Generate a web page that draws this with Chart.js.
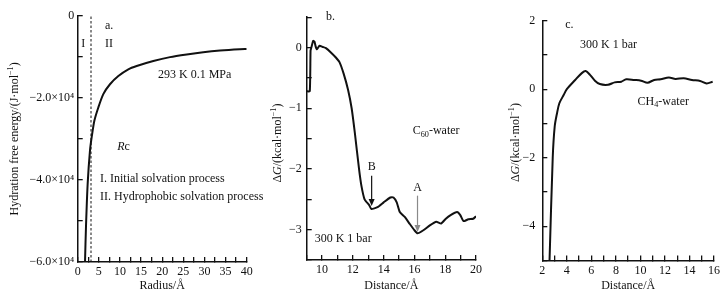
<!DOCTYPE html>
<html>
  <head>
    <meta charset="UTF-8" />
    <title>Hydration free energy</title>
    <style>
      body { margin: 0; background: #fff; }
      #wrap { position: relative; width: 728px; height: 299px; }
      canvas { position: absolute; top: 0; }
    </style>
  </head>
  <body>
    <div id="wrap">
      <canvas id="chartA" width="268" height="299" style="left:0"></canvas>
      <canvas id="chartB" width="235" height="299" style="left:255px"></canvas>
      <canvas id="chartC" width="238" height="299" style="left:490px"></canvas>
    </div>
    <script src="https://cdn.jsdelivr.net/npm/chart.js@4.4.1/dist/chart.umd.min.js"></script>
    <script>
      // panel a: hydration free energy vs radius
      const radiusA = [1.73, 1.96, 2.36, 2.91, 3.31, 3.94, 4.88, 6.06, 7.64, 9.62, 11.98, 13.96, 17.9, 21.85, 25.8, 29.7, 33.7, 38.4, 40];
      const energyA = [-60000, -51400, -40900, -32800, -29600, -25600, -22350, -19100, -16700, -14700, -13060, -12260, -11050, -10090, -9430, -8880, -8470, -8150, -8100];
      const rcLine = [3.15, 3.15];
      const rcLineY = [-200, -60000];

      // panel b: C60-water
      const distB = [9.0, 9.2, 9.25, 9.3, 9.42, 9.5, 9.58, 9.66, 9.83, 10.04, 10.25, 10.57, 10.88, 11.13, 11.4, 11.69, 11.92, 12.13, 12.4, 12.55, 12.76, 13.07, 13.2, 13.6, 14.0, 14.43, 14.64, 14.85, 15.05, 15.37, 15.68, 16.0, 16.2, 16.58, 17.0, 17.42, 17.73, 18.04, 18.35, 18.77, 18.98, 19.19, 19.5, 19.82, 20.0];
      const dGB = [-0.72, -0.72, -0.05, 0.0, 0.11, 0.10, 0.02, -0.03, 0.03, 0.01, -0.01, -0.08, -0.16, -0.24, -0.43, -0.70, -1.0, -1.41, -2.0, -2.27, -2.5, -2.6, -2.66, -2.63, -2.55, -2.47, -2.47, -2.55, -2.71, -2.79, -2.9, -3.01, -3.06, -3.01, -2.93, -2.87, -2.9, -2.82, -2.76, -2.71, -2.76, -2.86, -2.83, -2.82, -2.78];

      // panel c: CH4-water
      const distC = [2.59, 2.85, 3.01, 3.2, 3.39, 3.74, 4.0, 4.68, 5.22, 5.54, 5.89, 6.29, 6.69, 7.36, 7.9, 8.44, 8.84, 9.5, 10.05, 10.58, 11.12, 11.65, 12.32, 12.86, 13.53, 14.2, 14.87, 15.4, 15.89];
      const dGC = [-5, -2.0, -1.09, -0.7, -0.41, -0.17, 0.0, 0.27, 0.47, 0.53, 0.42, 0.25, 0.15, 0.13, 0.2, 0.22, 0.29, 0.27, 0.25, 0.19, 0.27, 0.29, 0.34, 0.3, 0.32, 0.27, 0.24, 0.17, 0.22];

      const serif = '"Liberation Serif", "Times New Roman", serif';
      const ink = "#111";
      const MINUS = "\u2212";

      function pts(xs, ys) {
        return xs.map((x, i) => ({ x: x, y: ys[i] }));
      }

      // draws a run of text pieces (italic / sub / sup) one after another
      function drawRich(ctx, segs, x, y, size, align) {
        const fontOf = (s) =>
          (s.it ? "italic " : "") + (s.sub || s.sup ? size * 0.68 : size) + "px " + serif;
        let w = 0;
        segs.forEach((s) => {
          ctx.font = fontOf(s);
          w += ctx.measureText(s.t).width;
        });
        let cx = align === "center" ? x - w / 2 : x;
        segs.forEach((s) => {
          ctx.font = fontOf(s);
          let dy = s.sub ? size * 0.3 : s.sup ? -size * 0.35 : 0;
          ctx.fillText(s.t, cx, y + dy);
          cx += ctx.measureText(s.t).width;
        });
      }

      // notes are placed at data coords, y titles relative to the chart area
      function notesPlugin(notes, arrows, yTitle) {
        return {
          id: "notes",
          afterDraw(chart) {
            const ctx = chart.ctx;
            const sx = chart.scales.x, sy = chart.scales.y;
            ctx.save();
            ctx.fillStyle = ink;
            ctx.textBaseline = "middle";
            notes.forEach((n) => {
              drawRich(ctx, n.segs, sx.getPixelForValue(n.x), sy.getPixelForValue(n.y), 12, n.align || "left");
            });
            arrows.forEach((a) => {
              const px = sx.getPixelForValue(a.x);
              const y1 = sy.getPixelForValue(a.y1), y2 = sy.getPixelForValue(a.y2);
              ctx.strokeStyle = a.color;
              ctx.fillStyle = a.color;
              ctx.lineWidth = 1.2;
              ctx.beginPath();
              ctx.moveTo(px, y1);
              ctx.lineTo(px, y2 - 5);
              ctx.stroke();
              ctx.beginPath();
              ctx.moveTo(px, y2);
              ctx.lineTo(px - 3, y2 - 7);
              ctx.lineTo(px + 3, y2 - 7);
              ctx.closePath();
              ctx.fill();
            });
            ctx.fillStyle = ink;
            const ca = chart.chartArea;
            ctx.translate(ca.left - yTitle.dx, (ca.top + ca.bottom) / 2 + yTitle.dy);
            ctx.rotate(-Math.PI / 2);
            drawRich(ctx, yTitle.segs, 0, 0, 12, "center");
            ctx.restore();
          }
        };
      }

      function makeAxes(o) {
        const tickFont = { family: serif, size: 12 };
        return {
          x: {
            type: "linear",
            min: o.xMin,
            max: o.xMax,
            border: { color: ink, width: 1.5 },
            grid: { drawOnChartArea: false, tickLength: -5, color: ink, lineWidth: 1.3 },
            ticks: {
              stepSize: o.xStep,
              autoSkip: false,
              maxRotation: 0,
              padding: 8,
              color: ink,
              font: tickFont,
              callback: o.xLabel
            },
            title: {
              display: true,
              text: o.xTitle,
              color: ink,
              font: { family: serif, size: 12 },
              padding: { top: 0, bottom: 6 }
            },
            afterFit: (s) => { s.height = o.xH; }
          },
          y: {
            type: "linear",
            min: o.yMin,
            max: o.yMax,
            border: { color: ink, width: 1.5 },
            grid: { drawOnChartArea: false, tickLength: -5, color: ink, lineWidth: 1.3 },
            ticks: {
              stepSize: o.yStep,
              autoSkip: false,
              padding: o.yPad,
              color: ink,
              font: tickFont,
              callback: o.yLabel
            },
            afterFit: (s) => { s.width = o.yW; }
          }
        };
      }

      function lineSet(data, extra) {
        return Object.assign({
          data: data,
          borderColor: ink,
          borderWidth: 2,
          pointRadius: 0,
          tension: 0.3,
          fill: false
        }, extra || {});
      }

      function baseOptions(axes, pad) {
        return {
          responsive: false,
          animation: false,
          devicePixelRatio: 1,
          layout: { padding: pad },
          plugins: { legend: { display: false }, tooltip: { enabled: false } },
          scales: axes
        };
      }

      const evenLabel = (v) => (v % 2 === 0 ? String(v).replace("-", MINUS) : "");

      // ---- panel a
      new Chart(document.getElementById("chartA"), {
        type: "line",
        data: {
          datasets: [
            lineSet(pts(radiusA, energyA), { tension: 0.25 }),
            lineSet(pts(rcLine, rcLineY), { borderWidth: 1, borderDash: [2.5, 2], tension: 0 })
          ]
        },
        options: baseOptions(
          makeAxes({
            xMin: 0, xMax: 40, xStep: 2.5, xH: 37, xTitle: "Radius/Å",
            xLabel: (v) => (v % 5 === 0 ? String(v) : ""),
            yMin: -60000, yMax: 0, yStep: 10000, yW: 77.7, yPad: 8.5,
            yLabel: (v) => (v === 0 ? "0" : v % 20000 === 0 ? MINUS + (Math.abs(v) / 10000).toFixed(1) + "×10⁴" : "")
          }),
          { left: 0, top: 14.3, right: 21.3, bottom: 0 }
        ),
        plugins: [
          notesPlugin(
            [
              { x: 6.46, y: -2350, segs: [{ t: "a." }] },
              { x: 1.33, y: -6870, segs: [{ t: "I" }], align: "center" },
              { x: 6.46, y: -6870, segs: [{ t: "II" }] },
              { x: 19.0, y: -14440, segs: [{ t: "293 K 0.1 MPa" }] },
              { x: 9.37, y: -31860, segs: [{ t: "R", it: true }, { t: "c" }] },
              { x: 5.28, y: -39670, segs: [{ t: "I. Initial solvation process" }] },
              { x: 5.28, y: -44120, segs: [{ t: "II. Hydrophobic solvation process" }] }
            ],
            [],
            { dx: 62.7, dy: 0, segs: [{ t: "Hydration free energy/(J·mol" }, { t: MINUS + "1", sup: true }, { t: ")" }] }
          )
        ]
      });

      const dGTitle = [{ t: "Δ" }, { t: "G", it: true }, { t: "/(kcal·mol" }, { t: MINUS + "1", sup: true }, { t: ")" }];

      // ---- panel b
      new Chart(document.getElementById("chartB"), {
        type: "line",
        data: { datasets: [lineSet(pts(distB, dGB), { tension: 0.15 })] },
        options: baseOptions(
          makeAxes({
            xMin: 9, xMax: 20, xStep: 1, xH: 39, xTitle: "Distance/Å",
            xLabel: evenLabel,
            yMin: -3.5, yMax: 0.5, yStep: 0.5, yW: 51.7, yPad: 10,
            yLabel: (v) => (Number.isInteger(v) ? String(v).replace("-", MINUS) : "")
          }),
          { left: 0, top: 16, right: 7.7, bottom: 0 }
        ),
        plugins: [
          notesPlugin(
            [
              { x: 10.25, y: 0.5, segs: [{ t: "b." }] },
              { x: 15.89, y: -1.38, segs: [{ t: "C" }, { t: "60", sub: true }, { t: "-water" }] },
              { x: 13.22, y: -1.97, segs: [{ t: "B" }], align: "center" },
              { x: 16.2, y: -2.31, segs: [{ t: "A" }], align: "center" },
              { x: 9.52, y: -3.15, segs: [{ t: "300 K 1 bar" }] }
            ],
            [
              { x: 13.22, y1: -2.11, y2: -2.61, color: ink },
              { x: 16.2, y1: -2.44, y2: -3.04, color: "#8a8a8a" }
            ],
            { dx: 28.7, dy: 4.5, segs: dGTitle }
          )
        ]
      });

      // ---- panel c
      new Chart(document.getElementById("chartC"), {
        type: "line",
        data: { datasets: [lineSet(pts(distC, dGC), { tension: 0.3 })] },
        options: baseOptions(
          makeAxes({
            xMin: 2, xMax: 16, xStep: 1, xH: 38.5, xTitle: "Distance/Å",
            xLabel: evenLabel,
            yMin: -5, yMax: 2, yStep: 1, yW: 52.3, yPad: 12,
            yLabel: evenLabel
          }),
          { left: 0, top: 20.7, right: 12.3, bottom: 0 }
        ),
        plugins: [
          notesPlugin(
            [
              { x: 3.87, y: 1.87, segs: [{ t: "c." }] },
              { x: 5.08, y: 1.29, segs: [{ t: "300 K 1 bar" }] },
              { x: 9.77, y: -0.36, segs: [{ t: "CH" }, { t: "4", sub: true }, { t: "-water" }] }
            ],
            [],
            { dx: 26, dy: 2, segs: dGTitle }
          )
        ]
      });
    </script>
  </body>
</html>
